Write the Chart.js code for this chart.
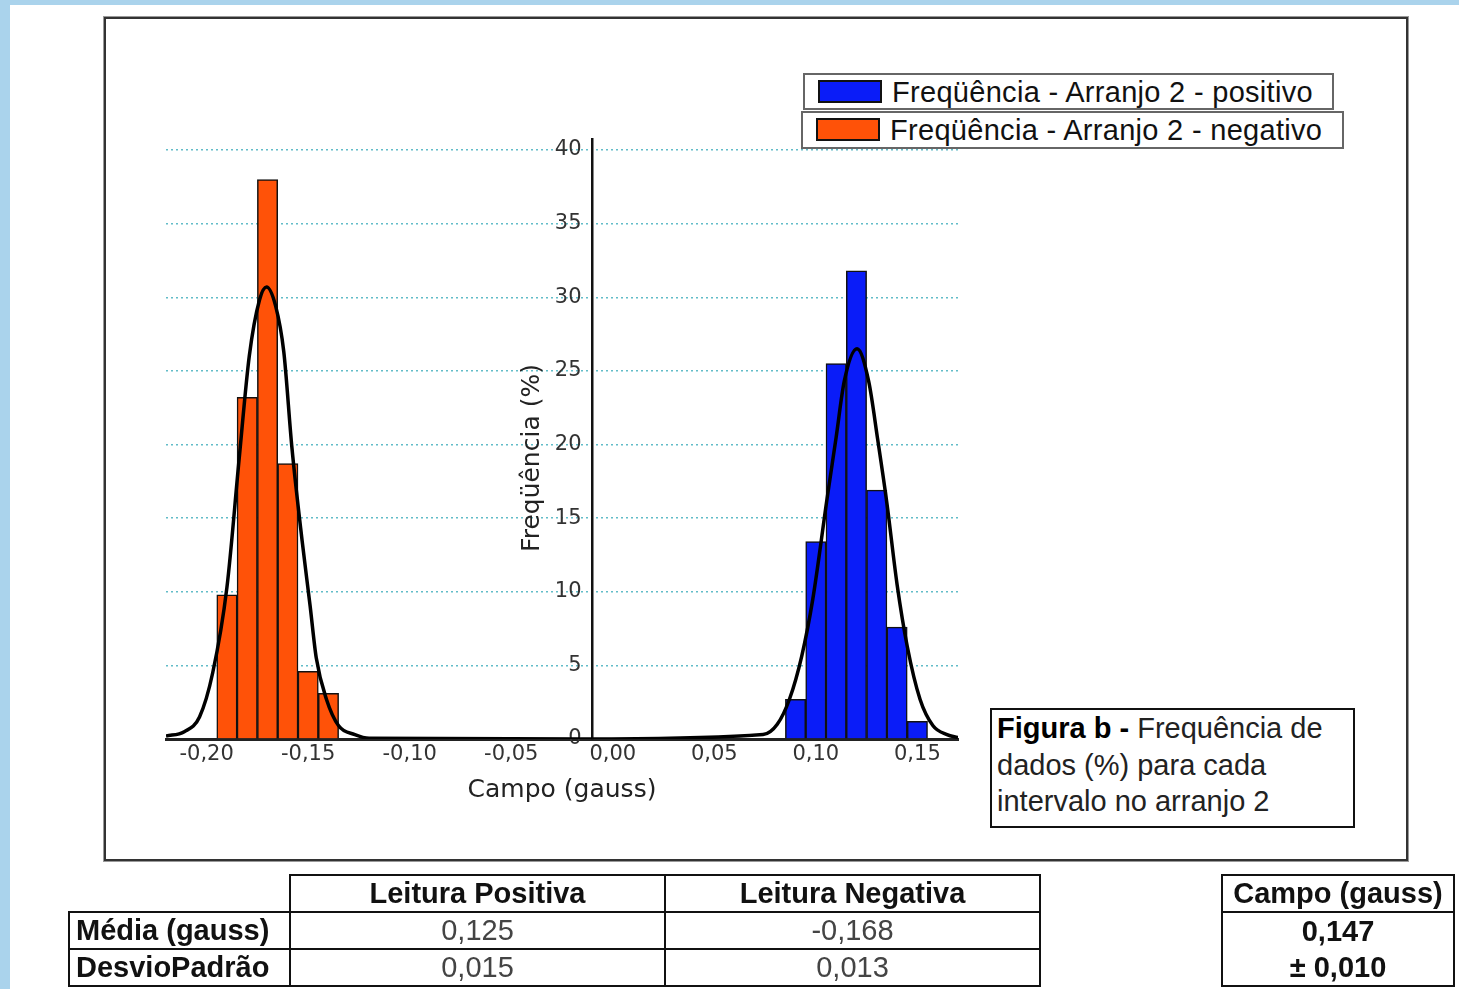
<!DOCTYPE html>
<html>
<head>
<meta charset="utf-8">
<script src="https://cdn.jsdelivr.net/npm/chart.js@4.4.1/dist/chart.umd.min.js"></script>
<style>
  html, body { margin: 0; padding: 0; }
  body { width: 1459px; height: 989px; background: #aad3ec; position: relative; overflow: hidden; font-family: "Liberation Sans", Arial, sans-serif; }
  #sheet { position: absolute; left: 10px; top: 5px; width: 1449px; height: 984px; background: #fff; }
  #chart { position: absolute; left: 0; top: 0; }
  #frame { position: absolute; left: 104px; top: 17px; width: 1300px; height: 840px; border: 2px solid #333; box-shadow: 0 0 0 1px #999; pointer-events: none; }
  .leg { position: absolute; background: #fff; border: 2px solid #666; box-sizing: border-box; font-size: 29px; letter-spacing: 0.3px; color: #111; line-height: 34px; white-space: nowrap; }
  .leg i { position: absolute; width: 64px; height: 23px; border: 2px solid #111; box-sizing: border-box; }
  .leg span { position: absolute; top: 0; }
  #fig { position: absolute; left: 990px; top: 708px; width: 365px; height: 120px; border: 2px solid #111; box-sizing: border-box; background: #fff; font-size: 29px; line-height: 36.5px; color: #222; padding-left: 5px; white-space: nowrap; }
  #fig b { color: #000; }
  table { position: absolute; border-collapse: collapse; font-size: 29px; }
  td { border: 2px solid #111; padding: 0; height: 35px; line-height: 33px; text-align: center; color: #444; white-space: nowrap; }
  td.h { font-weight: bold; color: #111; }
  td.r { font-weight: bold; color: #111; text-align: left; padding-left: 6px; }
  td.blank { border-top: none; border-left: none; }
</style>
</head>
<body>
<div id="sheet"></div>
<canvas id="chart" width="1459" height="989"></canvas>
<div id="frame"></div>
<div id="legend"></div>
<div id="fig"><b>Figura b -</b> Frequência de<br>dados (%) para cada<br>intervalo no arranjo 2</div>

<table style="left:68px; top:874px;">
  <tr><td class="blank" style="width:220px"></td><td class="h" style="width:373px">Leitura Positiva</td><td class="h" style="width:373px">Leitura Negativa</td></tr>
  <tr><td class="r">Média (gauss)</td><td>0,125</td><td>-0,168</td></tr>
  <tr><td class="r">DesvioPadrão</td><td>0,015</td><td>0,013</td></tr>
</table>

<table style="left:1221px; top:874px;">
  <tr><td class="h" style="width:230px">Campo (gauss)</td></tr>
  <tr><td class="h" style="height:72px; line-height:36px">0,147<br>± 0,010</td></tr>
</table>

<script>
// histogramas (centro do intervalo, frequência %)
const binsNeg = [-0.19, -0.18, -0.17, -0.16, -0.15, -0.14];
const freqNeg = [9.8, 23.2, 38.0, 18.7, 4.6, 3.1];
const binsPos = [0.09, 0.10, 0.11, 0.12, 0.13, 0.14, 0.15];
const freqPos = [2.7, 13.4, 25.5, 31.8, 16.9, 7.6, 1.2];

// curvas ajustadas
const curveNegX = [-0.220, -0.211, -0.2035, -0.197, -0.190, -0.184, -0.179, -0.174, -0.1705, -0.166, -0.162, -0.158, -0.153, -0.149, -0.146, -0.141, -0.135, -0.127, -0.120, -0.010];
const curveNegY = [0.2, 0.5, 1.5, 4.5, 10.3, 19.0, 26.0, 29.8, 30.7, 29.4, 26.3, 19.8, 13.5, 9.0, 5.5, 2.7, 0.9, 0.3, 0.05, 0];
const curvePosX = [-0.010, 0.074, 0.081, 0.087, 0.093, 0.0985, 0.1055, 0.110, 0.114, 0.1203, 0.126, 0.1305, 0.135, 0.140, 0.145, 0.1513, 0.1577, 0.1646, 0.170];
const curvePosY = [0, 0.3, 1.0, 2.7, 5.6, 9.5, 16.3, 20.5, 24.3, 26.5, 24.3, 20.3, 16.0, 10.5, 6.3, 2.7, 0.9, 0.3, 0.1];

const xTicks = [-0.20, -0.15, -0.10, -0.05, 0.00, 0.05, 0.10, 0.15];
const yTicks = [0, 5, 10, 15, 20, 25, 30, 35, 40];
const xRange = [-0.22, 0.17];
const yRange = [0, 40.75];
const yAxisAt = -0.01;   // onde o eixo vertical cruza o eixo x

const labelPos = "Freqüência - Arranjo 2 - positivo";
const labelNeg = "Freqüência - Arranjo 2 - negativo";
const xTitle = "Campo (gauss)";
const yTitle = "Freqüência (%)";

const BLUE = '#0a1cf8';
const ORANGE = '#ff5208';

const pts = (xs, ys) => xs.map((x, i) => ({ x: x, y: ys[i] }));
const fmt = v => v.toFixed(2).replace('.', ',');

Chart.defaults.font.family = '"DejaVu Sans", Verdana, sans-serif';
Chart.defaults.color = '#333';

// título do eixo y, desenhado à mão para ficar na mesma altura do original
const yTitlePlugin = {
    id: 'yTitle',
    afterDraw(chart) {
        const ctx = chart.ctx;
        ctx.save();
        ctx.translate(532, 458);
        ctx.rotate(-Math.PI / 2);
        ctx.font = '25px "DejaVu Sans", Verdana, sans-serif';
        ctx.fillStyle = '#222';
        ctx.textAlign = 'center';
        ctx.textBaseline = 'middle';
        ctx.fillText(yTitle, 0, 0);
        ctx.restore();
    }
};

const chart = new Chart(document.getElementById('chart'), {
    type: 'bar',
    data: {
        datasets: [
            { type: 'line', data: pts(curveNegX, curveNegY), borderColor: '#000', borderWidth: 3.5, pointRadius: 0, cubicInterpolationMode: 'monotone', order: 1 },
            { type: 'line', data: pts(curvePosX, curvePosY), borderColor: '#000', borderWidth: 3.5, pointRadius: 0, cubicInterpolationMode: 'monotone', order: 1 },
            { label: labelPos, data: pts(binsPos, freqPos), backgroundColor: BLUE, borderColor: '#111', borderWidth: 1.5, order: 2 },
            { label: labelNeg, data: pts(binsNeg, freqNeg), backgroundColor: ORANGE, borderColor: '#111', borderWidth: 1.5, order: 2 }
        ]
    },
    options: {
        responsive: false,
        animation: false,
        events: [],
        layout: { padding: { left: 166, right: 501, top: 139, bottom: 184 } },
        datasets: { bar: { barPercentage: 1, categoryPercentage: 1, grouped: false } },
        plugins: { legend: { display: false }, tooltip: { enabled: false } },
        scales: {
            x: {
                type: 'linear',
                min: xRange[0], max: xRange[1],
                offset: false,
                afterBuildTicks: s => { s.ticks = xTicks.map(v => ({ value: v })); },
                afterFit: s => { s.height = 66; },
                grid: { display: false, drawTicks: false },
                border: { display: true, color: '#222', width: 3 },
                ticks: { callback: v => fmt(v), font: { size: 21 }, padding: 3, maxRotation: 0, autoSkip: false },
                title: { display: true, text: xTitle, color: '#222', font: { size: 25 }, padding: { top: 0, bottom: 0 } }
            },
            y: {
                min: yRange[0], max: yRange[1],
                position: { x: yAxisAt },
                afterBuildTicks: s => { s.ticks = yTicks.map(v => ({ value: v })); },
                grid: {
                    drawTicks: false,
                    lineWidth: 1.5,
                    color: c => c.tick && c.tick.value === 0 ? 'rgba(0,0,0,0)' : '#62bcc8'
                },
                border: { display: true, color: '#111', width: 2.5, dash: [2, 3] },
                // o rótulo encosta no eixo quando ele é posicionado por valor: espaço à direita
                ticks: { font: { size: 21 }, callback: v => v + ' \u2009' }
            }
        }
    },
    plugins: [yTitlePlugin]
});

// legenda em caixas separadas, como no original
const legendBoxes = [
    { ds: chart.data.datasets[2], left: 803, top: 73, width: 531, height: 37, sw: 13, tx: 87 },
    { ds: chart.data.datasets[3], left: 801, top: 111, width: 543, height: 38, sw: 13, tx: 87 }
];
const legendEl = document.getElementById('legend');
legendBoxes.forEach(b => {
    const d = document.createElement('div');
    d.className = 'leg';
    d.style.cssText = `left:${b.left}px;top:${b.top}px;width:${b.width}px;height:${b.height}px;`;
    d.innerHTML = `<i style="left:${b.sw}px;top:5px;background:${b.ds.backgroundColor}"></i><span style="left:${b.tx}px">${b.ds.label}</span>`;
    legendEl.appendChild(d);
});
</script>
</body>
</html>
